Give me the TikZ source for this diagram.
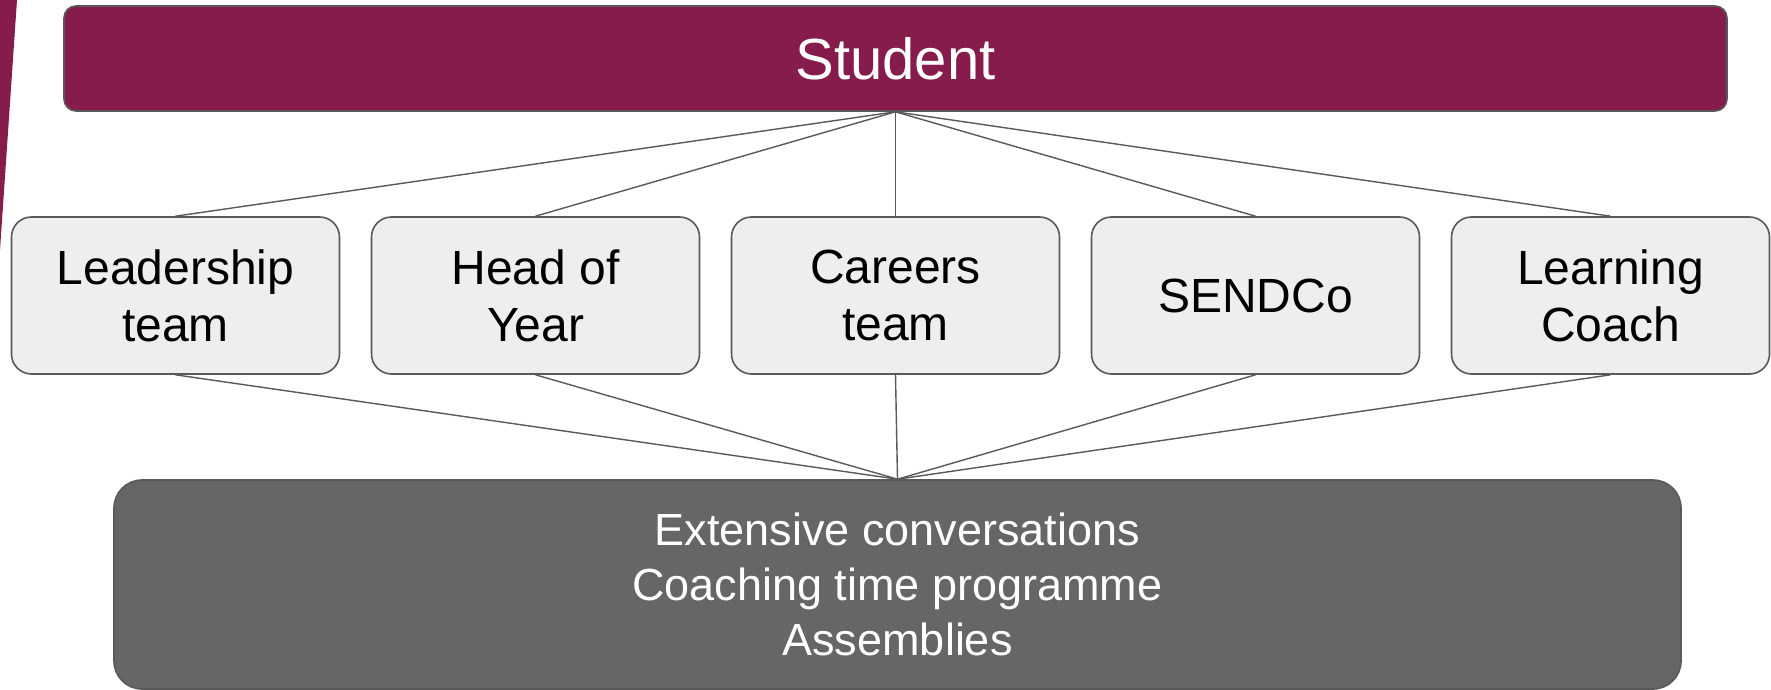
\documentclass[tikz,border=0pt]{standalone}
\usepackage{fontspec}
\setmainfont{Liberation Sans}
\definecolor{maroon}{HTML}{861C4B}
\definecolor{boxgrey}{HTML}{EEEEEE}
\definecolor{edgegrey}{HTML}{595959}
\definecolor{darkbox}{HTML}{666666}
\begin{document}
\begin{tikzpicture}[
        x=1pt, y=1pt, % one unit per pixel
        level distance=237pt,
        sibling distance=360pt,
        every node/.style={align=center, draw=edgegrey, line width=1.6pt, rectangle, inner sep=0pt},
        edge from parent/.style={draw=edgegrey, line width=1.4pt},
        edge from parent path={(\tikzparentnode.south) -- (\tikzchildnode.north)},
        rolebox/.style={fill=boxgrey, rounded corners=20pt, minimum width=328pt, minimum height=157pt, font=\fontsize{48}{57}\selectfont}
    ]
    \useasboundingbox (0,0) rectangle (1771,-690);
    % Side stripe
    \fill[maroon] (0,0) -- (17,0) -- (0,-250) -- cycle;
    % Root node
    \node[fill=maroon, text=white, rounded corners=12pt, minimum width=1663pt, minimum height=105pt, font=\fontsize{58}{68}\selectfont] (student) at (895.5,-58.5) {Student}
        child { node[rolebox] (lead) {Leadership\\team} }
        child { node[rolebox] (hoy) {Head of\\Year} }
        child { node[rolebox] (careers) {Careers\\team} }
        child { node[rolebox] (send) {SENDCo} }
        child { node[rolebox, minimum width=318pt, xshift=-5pt] (coach) {Learning\\Coach} };
    % Shared activities
    \node[fill=darkbox, text=white, rounded corners=28pt, minimum width=1567pt, minimum height=209pt, font=\fontsize{45}{55}\selectfont] (tools) at (897.5,-584.5) {Extensive conversations\\Coaching time programme\\Assemblies};
    \foreach \r in {lead,hoy,careers,send,coach}
        \draw[edgegrey, line width=1.4pt] (\r.south) -- (tools.north);
\end{tikzpicture}
\end{document}
